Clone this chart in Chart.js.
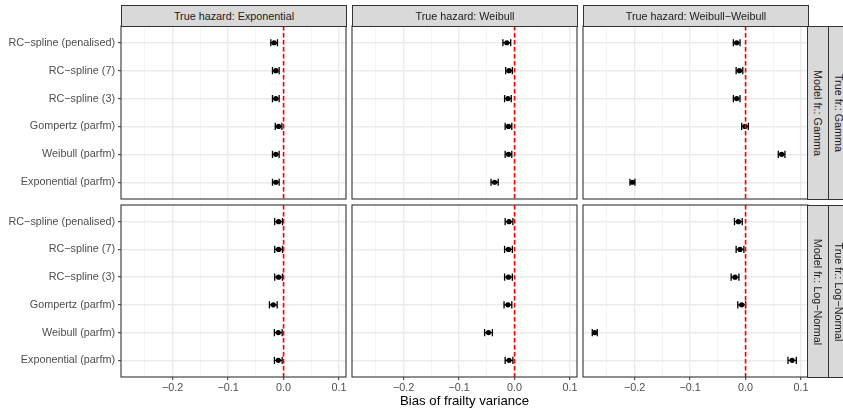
<!DOCTYPE html>
<html>
<head>
<meta charset="utf-8">
<script src="https://cdn.jsdelivr.net/npm/chart.js@4/dist/chart.umd.min.js"></script>
<style>
  html, body { margin: 0; padding: 0; background: #fff; }
  #stage { position: relative; width: 843px; height: 409px; overflow: hidden; font-family: 'Liberation Sans', Arial, sans-serif; }
  #stage canvas { position: absolute; }
  .strip { position: absolute; box-sizing: border-box; background: #d9d9d9; border: 1px solid #333; color: #1a1a1a; font-size: 10.8px; overflow: hidden; }
  .strip span { position: absolute; left: 50%; top: 50%; white-space: nowrap; transform: translate(-50%, -50%); }
  .strip.vert span { transform: translate(-50%, -50%) rotate(90deg); }
  .axis-title { position: absolute; left: 121px; width: 687px; top: 393px; text-align: center; font-size: 13.2px; color: #000; }
</style>
</head>
<body>
<div id="stage"></div>
<script>
// methods, bottom to top as in the figure
const methods = ['Exponential (parfm)', 'Weibull (parfm)', 'Gompertz (parfm)',
                 'RC\u2212spline (3)', 'RC\u2212spline (7)', 'RC\u2212spline (penalised)'];
const trueHazards = ['Exponential', 'Weibull', 'Weibull\u2212Weibull'];
const frailties = ['Gamma', 'Log\u2212Normal'];
const xMajorTicks = [-0.2, -0.1, 0, 0.1];
const xMinorTicks = [-0.25, -0.15, -0.05, 0.05];

// bias of frailty variance and half width of its interval, per panel (method order)
const biasGammaExp = [-0.014, -0.014, -0.009, -0.014, -0.014, -0.017];
const errGammaExp  = [0.006, 0.006, 0.006, 0.006, 0.006, 0.006];
const biasGammaWei = [-0.036, -0.011, -0.011, -0.012, -0.010, -0.014];
const errGammaWei  = [0.0065, 0.006, 0.006, 0.006, 0.006, 0.007];
const biasGammaWW  = [-0.204, 0.065, -0.001, -0.016, -0.011, -0.016];
const errGammaWW   = [0.0045, 0.006, 0.006, 0.006, 0.006, 0.006];
const biasLnExp    = [-0.0095, -0.0095, -0.0185, -0.009, -0.009, -0.009];
const errLnExp     = [0.007, 0.007, 0.007, 0.007, 0.007, 0.007];
const biasLnWei    = [-0.010, -0.047, -0.012, -0.011, -0.011, -0.010];
const errLnWei     = [0.007, 0.007, 0.007, 0.007, 0.007, 0.007];
const biasLnWW     = [0.084, -0.272, -0.007, -0.019, -0.010, -0.013];
const errLnWW      = [0.0075, 0.0045, 0.007, 0.007, 0.007, 0.007];

const biasGrid = [[biasGammaExp, biasGammaWei, biasGammaWW], [biasLnExp, biasLnWei, biasLnWW]];
const errGrid = [[errGammaExp, errGammaWei, errGammaWW], [errLnExp, errLnWei, errLnWW]];

const X_MIN = -0.2932, X_MAX = 0.1126;
const panelLefts = [121, 352, 583], panelW = 225;
const panelTops = [26, 205], panelH = [173, 172];
const FONT = "'Liberation Sans', Arial, sans-serif";

const isMajor = v => Math.abs(v * 10 - Math.round(v * 10)) < 1e-6;
const fmtTick = v => (v < -1e-9 ? '\u2212' : '') + Math.abs(v).toFixed(1);

// whiskers drawn under the points, reference line and frame on top
const panelPlugin = {
    id: 'panelDeco',
    beforeDatasetsDraw(chart) {
        const c = chart.ctx, xs = chart.scales.x;
        chart.data.datasets.forEach((ds, di) => {
            const meta = chart.getDatasetMeta(di);
            c.save();
            c.strokeStyle = '#000';
            c.lineWidth = 1.3;
            meta.data.forEach((pt, i) => {
                const v = ds.data[i].x, e = ds.errors[i];
                const x0 = xs.getPixelForValue(v - e), x1 = xs.getPixelForValue(v + e);
                c.beginPath();
                c.moveTo(x0, pt.y); c.lineTo(x1, pt.y);
                c.moveTo(x0, pt.y - 3.6); c.lineTo(x0, pt.y + 3.6);
                c.moveTo(x1, pt.y - 3.6); c.lineTo(x1, pt.y + 3.6);
                c.stroke();
            });
            c.restore();
        });
    },
    afterDatasetsDraw(chart) {
        const c = chart.ctx, a = chart.chartArea;
        const x0 = chart.scales.x.getPixelForValue(0);
        c.save();
        c.strokeStyle = '#ff0000';
        c.lineWidth = 1.6;
        c.setLineDash([4.5, 2.5]);
        c.beginPath();
        c.moveTo(x0, a.top); c.lineTo(x0, a.bottom);
        c.stroke();
        c.restore();
    },
    afterDraw(chart) {
        const c = chart.ctx, a = chart.chartArea;
        c.save();
        c.strokeStyle = '#333333';
        c.lineWidth = 1.1;
        c.strokeRect(a.left, a.top, a.right - a.left, a.bottom - a.top);
        c.restore();
    }
};

function makePanel(row, col) {
    const isLeft = col === 0, isBottom = row === 1;
    // generous padding so tick-label overflow never shrinks the chart area
    const padL = isLeft ? 0 : 12, padR = 12, padT = 14, padB = isBottom ? 0 : 14;
    const axisW = isLeft ? panelLefts[0] : 0;
    const axisH = isBottom ? 32 : 0;
    const w = (isLeft ? axisW : padL) + panelW + padR;
    const h = padT + panelH[row] + axisH + padB;

    const cv = document.createElement('canvas');
    cv.width = w; cv.height = h;
    cv.style.left = (panelLefts[col] - (isLeft ? axisW : padL)) + 'px';
    cv.style.top = (panelTops[row] - padT) + 'px';
    cv.style.width = w + 'px'; cv.style.height = h + 'px';
    document.getElementById('stage').appendChild(cv);

    const bias = biasGrid[row][col];
    new Chart(cv.getContext('2d'), {
        type: 'scatter',
        data: {
            datasets: [{
                data: bias.map((v, i) => ({ x: v, y: i })),
                errors: errGrid[row][col],
                pointRadius: 2.6,
                pointBackgroundColor: '#000',
                pointBorderWidth: 0
            }]
        },
        options: {
            responsive: false,
            animation: false,
            events: [],
            layout: { padding: { left: padL, right: padR, top: padT, bottom: padB } },
            plugins: { legend: { display: false }, tooltip: { enabled: false } },
            scales: {
                x: {
                    type: 'linear', min: X_MIN, max: X_MAX,
                    afterBuildTicks: s => { s.ticks = xMinorTicks.concat(xMajorTicks).sort((a, b) => a - b).map(v => ({ value: v })); },
                    afterFit: s => { s.height = axisH; },
                    border: { display: false },
                    grid: {
                        color: ctx => isMajor(ctx.tick.value) ? '#ebebeb' : '#f3f3f3',
                        lineWidth: ctx => isMajor(ctx.tick.value) ? 1.4 : 0.8,
                        drawTicks: isBottom,
                        tickLength: 3,
                        tickWidth: 1,
                        tickColor: ctx => isMajor(ctx.tick.value) ? '#333333' : 'rgba(0,0,0,0)'
                    },
                    ticks: {
                        display: isBottom, autoSkip: false, maxRotation: 0, padding: 2,
                        color: '#4d4d4d', font: { family: FONT, size: 10.8 },
                        callback: v => isMajor(v) ? fmtTick(v) : ''
                    }
                },
                y: {
                    type: 'linear', min: -0.6, max: methods.length - 0.4,
                    afterBuildTicks: s => { s.ticks = methods.map((m, i) => ({ value: i })); },
                    afterFit: s => { s.width = axisW; },
                    border: { display: false },
                    grid: {
                        color: '#ebebeb', lineWidth: 1.4,
                        drawTicks: isLeft, tickLength: 3, tickWidth: 1, tickColor: '#333333'
                    },
                    ticks: {
                        display: isLeft, autoSkip: false, padding: 3,
                        color: '#4d4d4d', font: { family: FONT, size: 10.8 },
                        callback: v => methods[v]
                    }
                }
            }
        },
        plugins: [panelPlugin]
    });
}

function addStrip(text, left, top, width, height, vertical) {
    const d = document.createElement('div');
    d.className = 'strip' + (vertical ? ' vert' : '');
    d.style.left = left + 'px'; d.style.top = top + 'px';
    d.style.width = width + 'px'; d.style.height = height + 'px';
    const s = document.createElement('span');
    s.textContent = text;
    d.appendChild(s);
    document.getElementById('stage').appendChild(d);
}

for (let r = 0; r < 2; r++) for (let c = 0; c < 3; c++) makePanel(r, c);

trueHazards.forEach((hz, c) => addStrip('True hazard: ' + hz, panelLefts[c], 5, panelW + 1, 22, false));
frailties.forEach((fr, r) => {
    addStrip('Model fr.: ' + fr, 807, panelTops[r], 22, panelH[r] + 1, true);
    addStrip('True fr.: ' + fr, 828, panelTops[r], 22, panelH[r] + 1, true);
});

const title = document.createElement('div');
title.className = 'axis-title';
title.textContent = 'Bias of frailty variance';
document.getElementById('stage').appendChild(title);
</script>
</body>
</html>
